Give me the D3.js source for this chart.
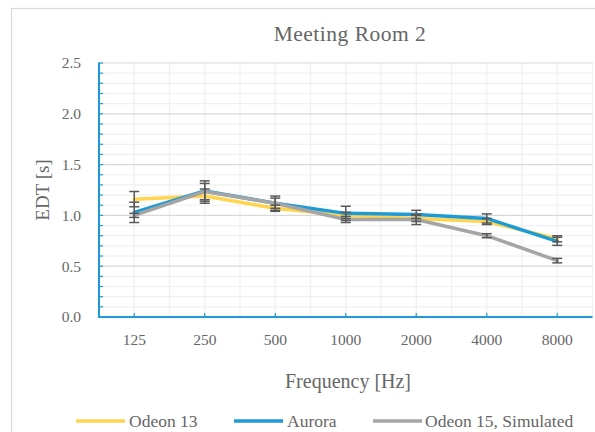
<!DOCTYPE html>
<html>
<head>
<meta charset="utf-8">
<script src="https://cdn.jsdelivr.net/npm/d3@7"></script>
<style>
  html, body { margin: 0; padding: 0; background: #fff; }
  svg { display: block; }
  text { font-family: "Liberation Serif", "Times New Roman", serif; fill: #666666; }
</style>
</head>
<body>
<svg id="chart" width="595" height="432"></svg>
<script>
const categories = ["125", "250", "500", "1000", "2000", "4000", "8000"];
const odeon13 = [1.16, 1.19, 1.07, 1.00, 0.97, 0.94, 0.77];
const aurora  = [1.03, 1.24, 1.12, 1.02, 1.01, 0.97, 0.745];
const odeon15 = [1.00, 1.235, 1.12, 0.96, 0.96, 0.80, 0.555];
const odeon13Err = [0.075, 0.07, 0.03, 0.03, 0.03, 0.03, 0.03];
const auroraErr  = [0.10, 0.10, 0.07, 0.07, 0.04, 0.045, 0.04];
const odeon15Err = [0.02, 0.08, 0.05, 0.03, 0.05, 0.02, 0.022];
const yTicks = [0, 0.5, 1.0, 1.5, 2.0, 2.5];
const seriesNames = ["Odeon 13", "Aurora", "Odeon 15, Simulated"];
const seriesColors = ["#FFD54F", "#1E9AD6", "#A5A5A5"];

const series = [
  {name: seriesNames[0], color: seriesColors[0], values: odeon13, err: odeon13Err},
  {name: seriesNames[1], color: seriesColors[1], values: aurora, err: auroraErr},
  {name: seriesNames[2], color: seriesColors[2], values: odeon15, err: odeon15Err}
];

const svg = d3.select("#chart");
const plot = {left: 99, right: 592.5, top: 63, bottom: 317};

// chart border
svg.append("rect").attr("x", 11.5).attr("y", 8.5).attr("width", 620).attr("height", 460)
  .attr("fill", "#fff").attr("stroke", "#d9d9d9").attr("stroke-width", 1.2);

const x = d3.scaleBand().domain(categories).range([plot.left, plot.right]).padding(0);
const y = d3.scaleLinear().domain([0, 2.5]).range([plot.bottom, plot.top]);

// minor horizontal gridlines
const minor = d3.range(1, 26).map(i => i / 10).filter(v => Math.round(v * 10) % 5 !== 0);
svg.append("g").selectAll("line").data(minor).join("line")
  .attr("x1", plot.left).attr("x2", plot.right)
  .attr("y1", d => y(d)).attr("y2", d => y(d))
  .attr("stroke", "#f0f0f0").attr("stroke-width", 1.2);

// vertical gridlines (band edges and centers)
const vpos = [];
categories.forEach(c => { vpos.push(x(c) + x.bandwidth() / 2); vpos.push(x(c) + x.bandwidth()); });
svg.append("g").selectAll("line").data(vpos).join("line")
  .attr("x1", d => d).attr("x2", d => d)
  .attr("y1", plot.top).attr("y2", plot.bottom)
  .attr("stroke", "#f0f0f0").attr("stroke-width", 1.2);

// major horizontal gridlines
svg.append("g").selectAll("line").data(yTicks.filter(v => v > 0)).join("line")
  .attr("x1", plot.left).attr("x2", plot.right)
  .attr("y1", d => y(d)).attr("y2", d => y(d))
  .attr("stroke", "#d9d9d9").attr("stroke-width", 1.2);

// lines
const line = d3.line().x((d, i) => x(categories[i]) + x.bandwidth() / 2).y(d => y(d));
series.forEach(s => {
  svg.append("path").datum(s.values).attr("d", line)
    .attr("fill", "none").attr("stroke", s.color).attr("stroke-width", 3.5)
    .attr("stroke-linejoin", "round").attr("stroke-linecap", "round");
});

// error bars
series.forEach(s => {
  const g = svg.append("g").attr("stroke", "#595959").attr("stroke-width", 1.5);
  s.values.forEach((v, i) => {
    const cx = x(categories[i]) + x.bandwidth() / 2;
    const y1 = y(v + s.err[i]), y2 = y(v - s.err[i]);
    g.append("line").attr("x1", cx).attr("x2", cx).attr("y1", y1).attr("y2", y2);
    g.append("line").attr("x1", cx - 5).attr("x2", cx + 5).attr("y1", y1).attr("y2", y1);
    g.append("line").attr("x1", cx - 5).attr("x2", cx + 5).attr("y1", y2).attr("y2", y2);
  });
});

// y axis
const yAxis = d3.axisLeft(y).tickValues(yTicks).tickFormat(d3.format(".1f")).tickSize(0).tickPadding(18);
const gy = svg.append("g").attr("transform", `translate(${plot.left},0)`).call(yAxis);
gy.select(".domain").remove();
gy.attr("font-family", null);
gy.selectAll("text").attr("font-size", 15.5);
svg.append("g").selectAll("line").data(d3.range(0, 26).map(i => i / 10)).join("line")
  .attr("x1", plot.left).attr("x2", plot.left + 4)
  .attr("y1", d => y(d)).attr("y2", d => y(d))
  .attr("stroke", "#1E9AD6").attr("stroke-width", 1.2);
svg.append("line").attr("x1", plot.left).attr("x2", plot.left)
  .attr("y1", plot.top - 0.5).attr("y2", plot.bottom + 1)
  .attr("stroke", "#1E9AD6").attr("stroke-width", 2);

// x axis
const xAxis = d3.axisBottom(x).tickSize(0).tickPadding(17);
const gx = svg.append("g").attr("transform", `translate(0,${plot.bottom})`).call(xAxis);
gx.select(".domain").remove();
gx.attr("font-family", null);
gx.selectAll("text").attr("font-size", 15.5);
svg.append("g").selectAll("line").data(categories).join("line")
  .attr("x1", d => x(d) + x.bandwidth() / 2).attr("x2", d => x(d) + x.bandwidth() / 2)
  .attr("y1", plot.bottom).attr("y2", plot.bottom - 4)
  .attr("stroke", "#1E9AD6").attr("stroke-width", 1.2);
svg.append("line").attr("x1", plot.left - 1).attr("x2", plot.right)
  .attr("y1", plot.bottom).attr("y2", plot.bottom)
  .attr("stroke", "#1E9AD6").attr("stroke-width", 2);

// title
svg.append("text").attr("x", 350).attr("y", 41).attr("text-anchor", "middle")
  .attr("font-size", 21.5).attr("letter-spacing", 0.5).text("Meeting Room 2");

// axis titles
svg.append("text").attr("x", 348).attr("y", 388).attr("text-anchor", "middle")
  .attr("font-size", 20).text("Frequency [Hz]");
svg.append("text").attr("transform", "translate(49,190) rotate(-90)").attr("text-anchor", "middle")
  .attr("font-size", 19).text("EDT [s]");

// legend
const legendPos = [{lx: 76, tx: 129}, {lx: 234, tx: 287}, {lx: 373, tx: 425}];
series.forEach((s, i) => {
  const p = legendPos[i];
  svg.append("line").attr("x1", p.lx).attr("x2", p.lx + 49).attr("y1", 421).attr("y2", 421)
    .attr("stroke", s.color).attr("stroke-width", 3.5);
  svg.append("text").attr("x", p.tx).attr("y", 427).attr("font-size", 17.5).text(s.name);
});
</script>
</body>
</html>
